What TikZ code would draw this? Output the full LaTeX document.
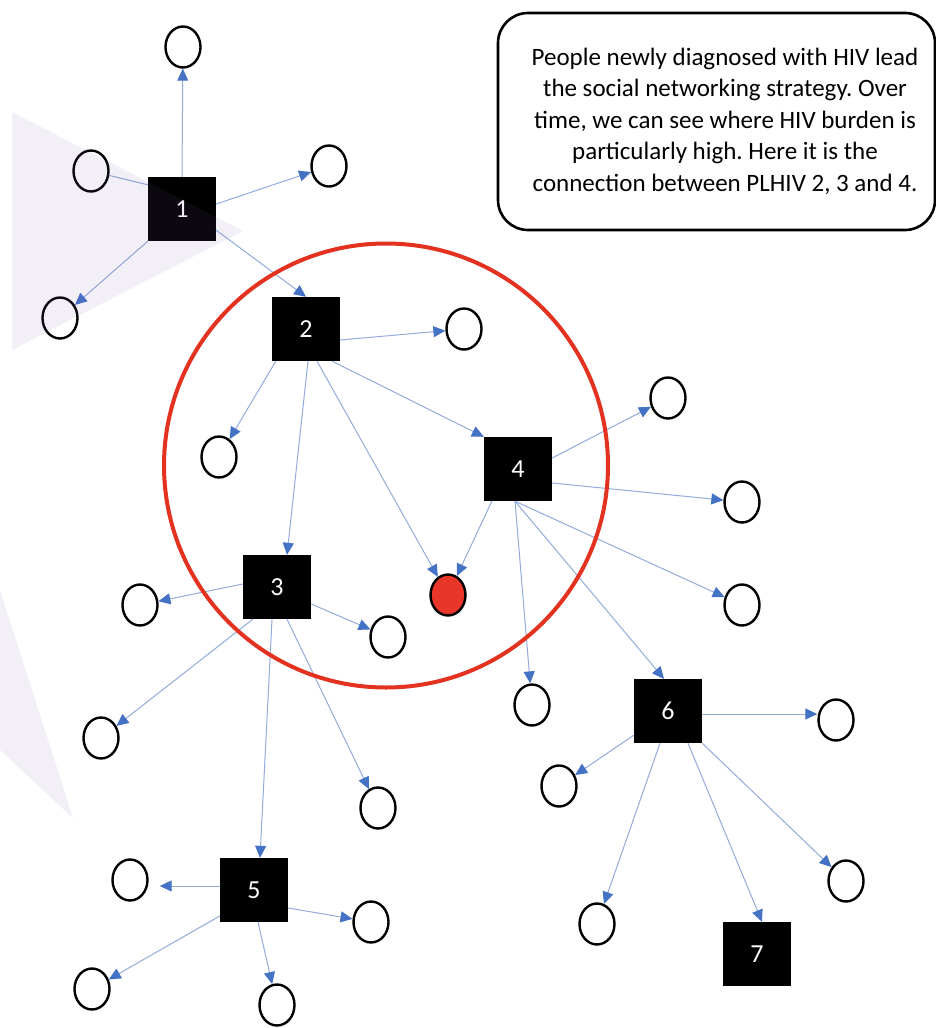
\documentclass[tikz,border=0pt]{standalone}
\usepackage{fontspec}
\setmainfont{Carlito}
\frenchspacing
\usetikzlibrary{arrows.meta,shapes.geometric}

\definecolor{linkblue}{HTML}{93ACDC}
\definecolor{tipblue}{HTML}{4472C4}
\definecolor{ringred}{HTML}{E3321F}
\definecolor{dotred}{HTML}{E8362A}
\definecolor{haze}{HTML}{7655B4}

\tikzset{
  person/.style={rectangle, fill=black, minimum width=68pt, minimum height=64pt,
    inner sep=0pt, text=white, font=\fontsize{26}{30}\selectfont},
  contact/.style={ellipse, draw=black, line width=2.4pt, minimum width=35pt,
    minimum height=41pt, inner sep=0pt},
  hotspot/.style={contact, fill=dotred},
  link/.style={draw=linkblue, line width=1pt,
    -{Triangle[length=12pt,width=11pt,color=tipblue]}},
  plainlink/.style={draw=linkblue, line width=1pt},
  noteframe/.style={rectangle, draw=black, line width=2.6pt, rounded corners=30pt,
    minimum width=437pt, minimum height=217pt, inner sep=0pt},
  notetext/.style={align=center, inner sep=0pt, font=\fontsize{25}{31.5}\selectfont},
  ring/.style={circle, draw=ringred, line width=4pt, minimum size=444pt, inner sep=0pt},
  shade/.style={fill=haze, fill opacity=0.095}
}

\begin{document}
\begin{tikzpicture}[x=1pt,y=-1pt]
  \useasboundingbox (0,0) rectangle (936,1028);
  \fill[white] (0,0) rectangle (936,1028);

  % index persons
  \node[person] (n1) at (182,209) {1};
  \node[person] (n2) at (306,329) {2};
  \node[person] (n3) at (277,587) {3};
  \node[person] (n4) at (518,469) {4};
  \node[person] (n5) at (254,890) {5};
  \node[person] (n6) at (668,711) {6};
  \node[person] (n7) at (757,954) {7};

  % contacts
  \node[contact] (c1t) at (183,47) {};
  \node[contact] (c1l) at (91,171) {};
  \node[contact] (c1r) at (329,166) {};
  \node[contact] (c1b) at (60,318) {};
  \node[contact] (c2r) at (464,329) {};
  \node[contact] (c2l) at (219,457) {};
  \node[contact] (c4u) at (668,398) {};
  \node[contact] (c4r) at (742,502) {};
  \node[contact] (c4d) at (742,605) {};
  \node[contact] (c4b) at (532,705) {};
  \node[hotspot] (hot) at (448,595) {};
  \node[contact] (c3l) at (140,605) {};
  \node[contact] (c3r) at (388,637) {};
  \node[contact] (c3d) at (101,738) {};
  \node[contact] (c3b) at (378,808) {};
  \node[contact] (c6r) at (836,720) {};
  \node[contact] (c6l) at (559,786) {};
  \node[contact] (c6d) at (846,881) {};
  \node[contact] (c6b) at (597,924) {};
  \node[contact] (c5l) at (130,880) {};
  \node[contact] (c5r) at (371,922) {};
  \node[contact] (c5d) at (92,989) {};
  \node[contact] (c5b) at (277,1005) {};

  % links from 1
  \draw[link] (n1.north) -- (c1t);
  \draw[plainlink] (c1l) -- ([yshift=-8pt]n1.north west);
  \draw[link] ([yshift=5pt]n1.east) -- (c1r);
  \draw[link] (n1.south west) -- (c1b);
  \draw[link] ([yshift=11pt]n1.south east) -- (n2.north);

  % links from 2
  \draw[link] ([yshift=-11pt]n2.east) -- (c2r);
  \draw[link] ([xshift=4pt]n2.south west) -- (c2l);
  \draw[link] ([xshift=2pt]n2.south) -- ([xshift=10pt]n3.north);
  \draw[link] ([xshift=11pt]n2.south) -- (hot);
  \draw[link] ([xshift=-8pt]n2.south east) -- (n4.north west);

  % links from 4
  \draw[link] ([yshift=11pt]n4.east) -- (c4u);
  \draw[link] ([yshift=-14pt]n4.east) -- (c4r);
  \draw[link] ([xshift=8pt]n4.south west) -- (hot);
  \draw[link] ([xshift=-3pt]n4.south) -- (c4b);
  \draw[link] ([xshift=-3pt]n4.south) -- ([xshift=-4pt]n6.north);
  \draw[link] ([xshift=-3pt]n4.south) -- (c4d);

  % links from 3
  \draw[link] ([yshift=3pt]n3.west) -- (c3l);
  \draw[link] ([yshift=-17pt]n3.east) -- (c3r);
  \draw[link] ([xshift=10pt]n3.south west) -- (c3d);
  \draw[link] ([xshift=-5pt]n3.south) -- ([xshift=6pt]n5.north);
  \draw[link] ([xshift=10pt]n3.south) -- (c3b);

  % links from 6
  \draw[link] ([yshift=-3pt]n6.east) -- ([yshift=-3pt]n6.east -| c6r.west);
  \draw[link] ([yshift=8pt]n6.south west) -- (c6l);
  \draw[link] (n6.south east) -- (c6d);
  \draw[link] ([xshift=-8pt]n6.south) -- (c6b);
  \draw[link] ([xshift=20pt]n6.south) -- ([xshift=5pt]n7.north);

  % links from 5
  \draw[link, shorten >=11pt] ([yshift=4pt]n5.west) -- ([yshift=4pt]n5.west -| c5l.east);
  \draw[link] ([yshift=-18pt]n5.east) -- (c5r);
  \draw[link] ([yshift=-26pt]n5.west) -- (c5d);
  \draw[link] ([xshift=4pt]n5.south) -- (c5b);

  % cluster of high burden
  \node[ring] (cluster) at (386,465.5) {};

  % explanatory note
  \node[noteframe] (note) at (716.5,121.5) {};
  \node[notetext] (notetxt) at (725,121) {People newly diagnosed with HIV lead\\
    the social networking strategy. Over\\
    time, we can see where HIV burden is\\
    particularly high. Here it is the\\
    connection between PLHIV 2, 3 and 4.};

  % translucent backdrop shapes
  \fill[shade] (12,112) -- (243,231) -- (12,350) -- cycle;
  \fill[shade] (0,590) -- (73,818) -- (0,750) -- cycle;
\end{tikzpicture}
\end{document}
